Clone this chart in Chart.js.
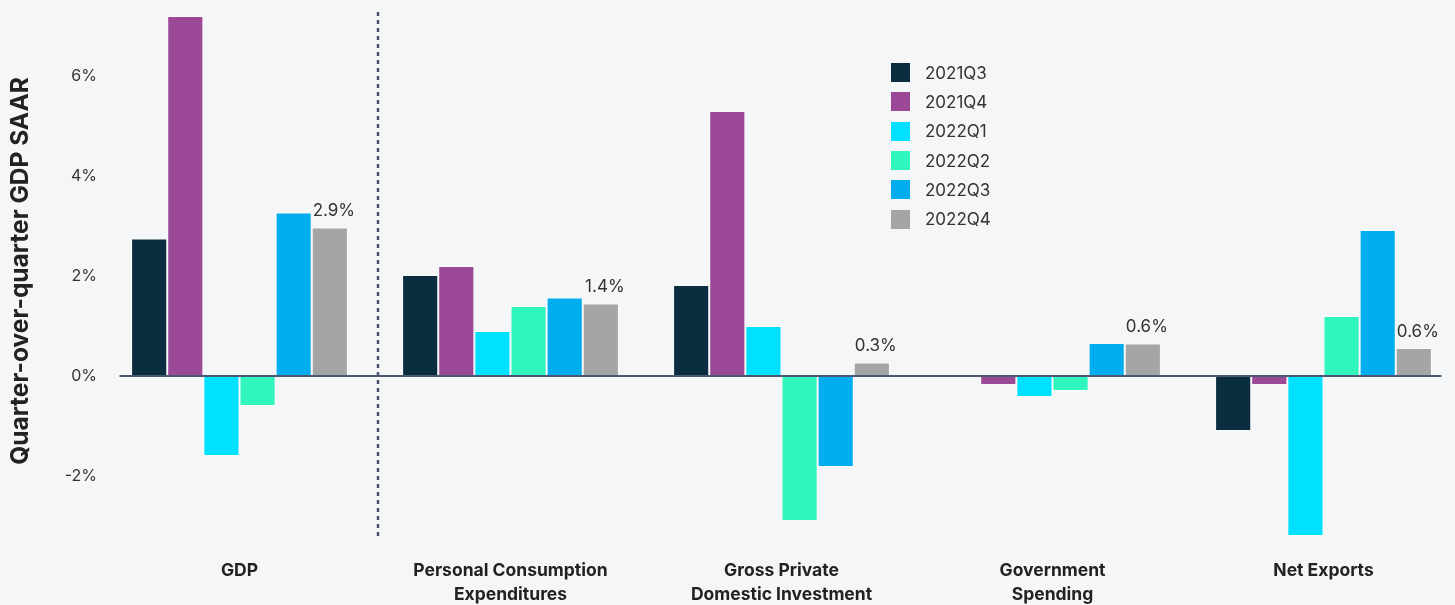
<!DOCTYPE html>
<html>
<head>
<meta charset="utf-8">
<script src="https://cdn.jsdelivr.net/npm/chart.js@4.4.1/dist/chart.umd.min.js"></script>
<style>
  html, body { margin: 0; padding: 0; background: #f5f6f8; overflow: hidden; }
  #wrap { position: relative; width: 1455px; height: 605px; overflow: hidden; }
  #wrap canvas { position: absolute; left: 0; top: 0; }
  #legend { position: absolute; left: 891px; top: 58px; font-family: Inter, sans-serif; font-size: 17px; color: #333; }
  #legend div { height: 29.3px; display: flex; align-items: center; }
  #legend span.sw { display: inline-block; width: 19px; height: 19px; margin-right: 15px; }
</style>
</head>
<body>
<div id="wrap">
  <canvas id="myChart" width="1470" height="605"></canvas>
  <div id="legend"></div>
</div>
<script>
// categories (x axis)
const categories = [
    'GDP',
    ['Personal Consumption', 'Expenditures'],
    ['Gross Private', 'Domestic Investment'],
    ['Government', 'Spending'],
    'Net Exports'
];

// quarter-over-quarter % SAAR, one array per quarter
const quarters = ['2021Q3', '2021Q4', '2022Q1', '2022Q2', '2022Q3', '2022Q4'];
const q2021Q3 = [2.75, 2.02, 1.82, 0.0, -1.1];
const q2021Q4 = [7.2, 2.2, 5.3, -0.18, -0.18];
const q2022Q1 = [-1.6, 0.9, 1.0, -0.42, -3.2];
const q2022Q2 = [-0.6, 1.4, -2.9, -0.3, 1.2];
const q2022Q3 = [3.27, 1.57, -1.82, 0.66, 2.92];
const q2022Q4 = [2.97, 1.45, 0.27, 0.65, 0.56];
const labelValues = ['2.9%', '1.4%', '0.3%', '0.6%', '0.6%'];

const yTicks = [-2, 0, 2, 4, 6];

const colors = ['#0b2d40', '#9b4897', '#00e1ff', '#30f5bd', '#00aeef', '#a5a5a5'];
const seriesValues = [q2021Q3, q2021Q4, q2022Q1, q2022Q2, q2022Q3, q2022Q4];

let datasets = [];
for (let i = 0; i < quarters.length; i++) {
    datasets.push({
        label: quarters[i],
        data: seriesValues[i],
        backgroundColor: colors[i],
        borderColor: 'rgba(255,255,255,0.55)',
        borderWidth: 1,
        borderSkipped: false,
        categoryPercentage: 0.8,
        barPercentage: 1.0
    });
}

// html legend
const legendDiv = document.getElementById('legend');
for (let i = 0; i < quarters.length; i++) {
    let row = document.createElement('div');
    row.innerHTML = '<span class="sw" style="background:' + colors[i] + '"></span>' + quarters[i];
    legendDiv.appendChild(row);
}

// zero line, separator and value labels
const extras = {
    id: 'extras',
    afterDatasetsDraw(chart) {
        const ctx = chart.ctx;
        const x = chart.scales.x;
        const y = chart.scales.y;
        const y0 = y.getPixelForValue(0);

        ctx.save();
        // zero line
        ctx.strokeStyle = '#4b5a74';
        ctx.lineWidth = 2;
        ctx.beginPath();
        ctx.moveTo(x.getPixelForValue(0) - 120, y0);
        ctx.lineTo(x.getPixelForValue(4) + 118, y0);
        ctx.stroke();

        // dashed separator after GDP
        const sep = (x.getPixelForValue(0) + x.getPixelForValue(1)) / 2 + 3;
        ctx.strokeStyle = '#45536e';
        ctx.lineWidth = 2.5;
        ctx.setLineDash([4, 4]);
        ctx.beginPath();
        ctx.moveTo(sep, chart.chartArea.top + 11);
        ctx.lineTo(sep, chart.chartArea.bottom - 3);
        ctx.stroke();
        ctx.setLineDash([]);

        // labels on last series
        const meta = chart.getDatasetMeta(quarters.length - 1);
        ctx.font = '17px Inter, sans-serif';
        ctx.fillStyle = '#333';
        ctx.textAlign = 'center';
        ctx.textBaseline = 'bottom';
        meta.data.forEach((bar, idx) => {
            ctx.fillText(labelValues[idx], bar.x + 4, bar.y - 8);
        });
        ctx.restore();
    }
};

const canvas = document.getElementById('myChart');
const myChart = new Chart(canvas, {
    type: 'bar',
    data: { labels: categories, datasets: datasets },
    options: {
        responsive: false,
        animation: false,
        layout: { padding: { top: 1, right: 11, left: 0, bottom: 0 } },
        plugins: {
            legend: { display: false },
            tooltip: { enabled: false }
        },
        scales: {
            x: {
                grid: { display: false, drawTicks: false },
                border: { display: false },
                ticks: {
                    color: '#222',
                    padding: 17,
                    maxRotation: 0,
                    autoSkip: false,
                    font: { family: 'Inter, sans-serif', size: 17.5, weight: 'bold', lineHeight: 1.4 }
                },
                afterFit(scale) { scale.height = 64; scale.paddingLeft = 0; scale.paddingRight = 0; }
            },
            y: {
                min: -3.3,
                max: 7.5,
                grid: { display: false, drawTicks: false },
                border: { display: false },
                afterBuildTicks(scale) { scale.ticks = yTicks.map(v => ({ value: v })); },
                ticks: {
                    color: '#333',
                    padding: 7,
                    font: { family: 'Inter, sans-serif', size: 16 },
                    callback: v => v + '%'
                },
                title: {
                    display: true,
                    text: 'Quarter-over-quarter GDP SAAR',
                    color: '#222',
                    padding: { top: 6, bottom: 0 },
                    font: { family: 'Inter, sans-serif', size: 24.5, weight: 'bold' }
                },
                afterFit(scale) { scale.width = 104; scale.paddingTop = 0; scale.paddingBottom = 0; }
            }
        }
    },
    plugins: [extras]
});
</script>
</body>
</html>
